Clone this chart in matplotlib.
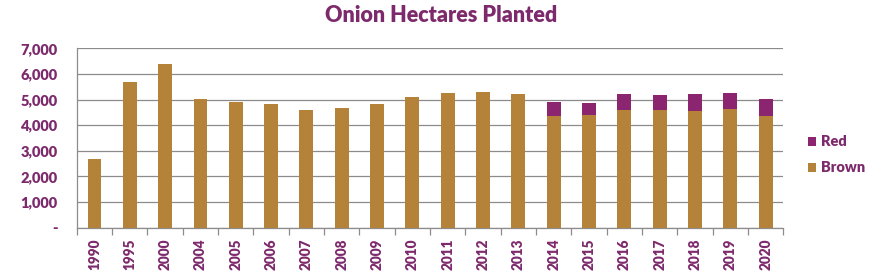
import matplotlib
matplotlib.use("Agg")
import matplotlib.pyplot as plt
import numpy as np

years = ["1990", "1995", "2000", "2004", "2005", "2006", "2007", "2008", "2009", "2010", "2011",
         "2012", "2013", "2014", "2015", "2016", "2017", "2018", "2019", "2020"]
brown = [2680, 5680, 6385, 5005, 4900, 4825, 4590, 4670, 4825, 5095, 5255,
         5295, 5215, 4355, 4395, 4590, 4590, 4550, 4630, 4355]
red = [0, 0, 0, 0, 0, 0, 0, 0, 0, 0, 0,
       0, 0, 545, 470, 625, 585, 665, 625, 650]
yticks = [0, 1000, 2000, 3000, 4000, 5000, 6000, 7000]
ytick_labels = ["-", "1,000", "2,000", "3,000", "4,000", "5,000", "6,000", "7,000"]

BROWN = "#B5823A"
PURPLE = "#8C2570"
TEXT = "#7D2A6C"
GRID = "#8C8C8C"

plt.rcParams['font.family'] = ['Lato', 'DejaVu Sans']
fig = plt.figure(figsize=(8.73, 2.79), dpi=100)
ax = fig.add_axes([0.0879, 0.1839, 0.8094, 0.643])

x = np.arange(len(years))
w = 0.39
ax.bar(x, brown, w, color=BROWN, label="Brown", zorder=3)
ax.bar(x, red, w, bottom=brown, color=PURPLE, label="Red", zorder=3)

ax.set_xlim(-0.5, len(years) - 0.5)
ax.set_ylim(0, 7000)
ax.set_yticks(yticks)
ax.set_yticklabels(ytick_labels, fontsize=10.5, fontweight='heavy', color=TEXT)
ax.tick_params(axis='y', length=0, pad=14)
ax.grid(axis='y', color=GRID, linewidth=0.9, zorder=0)

ax.set_xticks(x)
ax.set_xticklabels(years, rotation=90, fontsize=9.8, fontweight='heavy', color=TEXT)
ax.set_xticks(np.arange(-0.5, len(years)), minor=True)
ax.tick_params(axis='x', which='major', length=0, pad=8)
ax.tick_params(axis='x', which='minor', length=5, color=GRID, width=0.9)

for s in ['top', 'right']:
    ax.spines[s].set_visible(False)
for s in ['left', 'bottom']:
    ax.spines[s].set_color(GRID)
    ax.spines[s].set_linewidth(0.9)

fig.text(0.505, 0.945, "Onion Hectares Planted", ha='center', va='center',
         fontsize=15.5, fontweight='heavy', color=TEXT)

handles, labels = ax.get_legend_handles_labels()
leg = fig.legend(handles[::-1], labels[::-1], loc='center left', bbox_to_anchor=(0.91, 0.445),
                 frameon=False, handlelength=0.6, handleheight=0.6, handletextpad=0.35,
                 labelspacing=0.9, prop={'weight': 'heavy', 'size': 10.5})
for t in leg.get_texts():
    t.set_color(TEXT)

fig.savefig("out.png", dpi=100, facecolor='white')
